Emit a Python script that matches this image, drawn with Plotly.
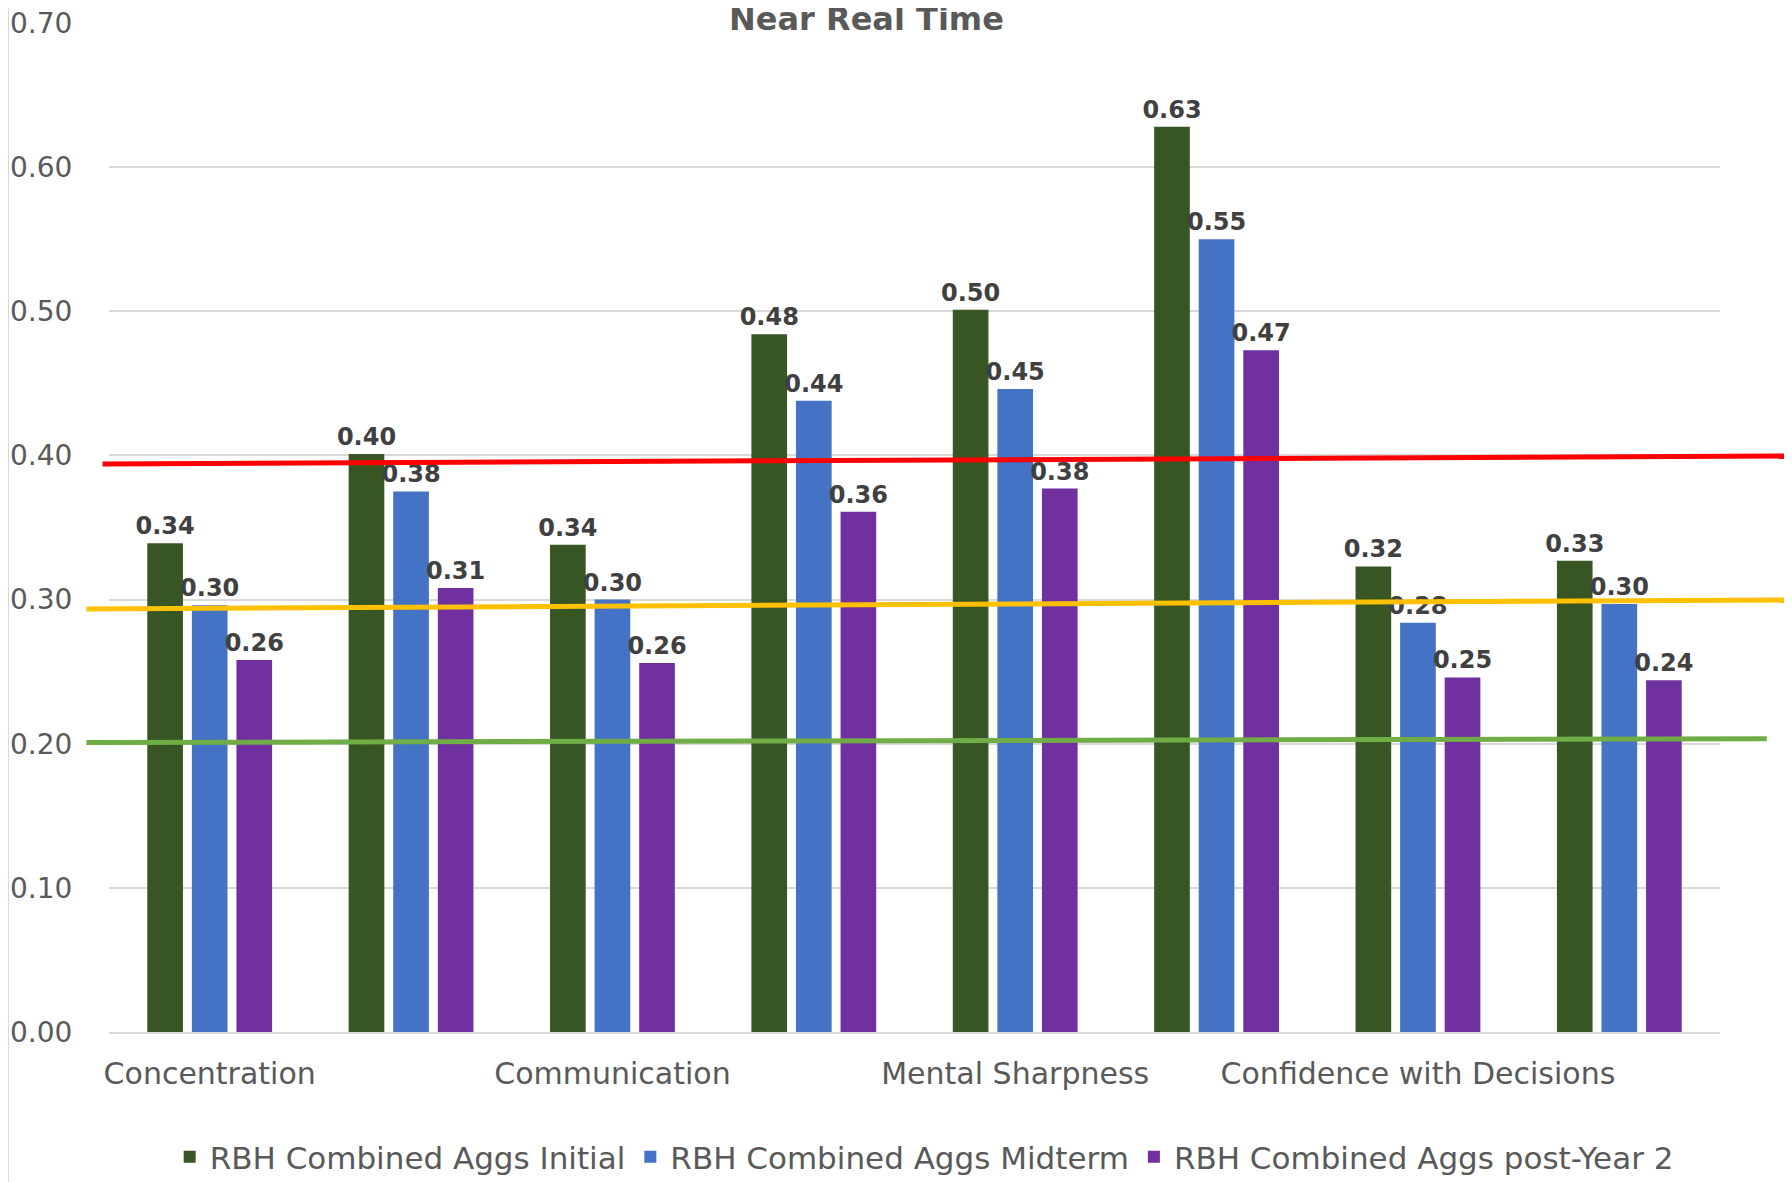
import plotly.graph_objects as go

categories = ["Concentration", "", "Communication", "", "Mental Sharpness", "", "Confidence with Decisions", ""]
series_names = ["RBH Combined Aggs Initial", "RBH Combined Aggs Midterm", "RBH Combined Aggs post-Year 2"]
initial = [0.339, 0.401, 0.338, 0.484, 0.501, 0.628, 0.323, 0.327]
midterm = [0.296, 0.375, 0.300, 0.438, 0.446, 0.550, 0.284, 0.297]
post_year2 = [0.258, 0.308, 0.256, 0.361, 0.377, 0.473, 0.246, 0.244]
colors = ["#375623", "#4472C4", "#7030A0"]
y_ticks = [0.0, 0.1, 0.2, 0.3, 0.4, 0.5, 0.6, 0.7]

# reference lines: (start value, end value, colour, start/end in plot-width fractions)
ref_lines = [(0.394, 0.3997, "#FF0000", -0.004, 1.045),
             (0.2935, 0.2998, "#FFC000", -0.014, 1.042),
             (0.2008, 0.2035, "#70AD47", -0.014, 1.029)]

FONT = "DejaVu Sans"
x = list(range(len(categories)))

fig = go.Figure()
for name, vals, col in zip(series_names, [initial, midterm, post_year2], colors):
    fig.add_trace(go.Bar(
        x=x, y=vals, name=name, marker=dict(color=col, line=dict(width=0)),
        texttemplate="%{y:.2f}", textposition="outside", constraintext="none",
        cliponaxis=False,
        textfont=dict(family=FONT, size=24, color="#404040", weight="bold"),
    ))

shapes = []
for y0, y1, col, x0, x1 in ref_lines:
    shapes.append(dict(type="line", xref="paper", yref="y", x0=x0, x1=x1, y0=y0, y1=y1,
                       line=dict(color=col, width=5), layer="above"))
shapes.append(dict(type="line", xref="paper", yref="paper", x0=-0.0627, x1=-0.0627, y0=-0.2, y1=1.1,
                   line=dict(color="#D9D9D9", width=2), layer="below"))

fig.update_layout(
    width=1792, height=1182,
    margin=dict(l=101, r=80, t=15, b=158, autoexpand=False),
    paper_bgcolor="white", plot_bgcolor="white",
    barmode="group", bargap=0.336, bargroupgap=0.2,
    showlegend=True,
    legend=dict(orientation="h", x=0.506, xanchor="center", y=-0.124, yanchor="middle",
                font=dict(family=FONT, size=31, color="#595959"), traceorder="normal"),
    font=dict(family=FONT, color="#595959"),
    shapes=shapes,
    annotations=[dict(text="Near Real Time", xref="paper", yref="paper", x=0.4705, y=0.983,
                      xanchor="center", yanchor="bottom", showarrow=False,
                      font=dict(family=FONT, size=32, color="#595959", weight="bold"))],
)
fig.update_xaxes(range=[-0.5, len(categories) - 0.5], tickvals=x, ticktext=categories,
                 showgrid=False, showline=True, linecolor="#D9D9D9", linewidth=2,
                 ticks="outside", ticklen=14, tickcolor="rgba(0,0,0,0)", automargin=False,
                 ticklabeloverflow="allow",
                 tickfont=dict(family=FONT, size=30, color="#595959"), zeroline=False)
fig.update_yaxes(range=[0, 0.7], tickvals=y_ticks, ticktext=[f"{v:.2f}" for v in y_ticks],
                 showgrid=True, gridcolor="#D9D9D9", gridwidth=2, zeroline=False, automargin=False,
                 showline=False, ticks="outside", ticklen=30, tickcolor="rgba(0,0,0,0)",
                 ticklabeloverflow="allow",
                 tickfont=dict(family=FONT, size=28, color="#595959"))

fig.write_html("out.html")
